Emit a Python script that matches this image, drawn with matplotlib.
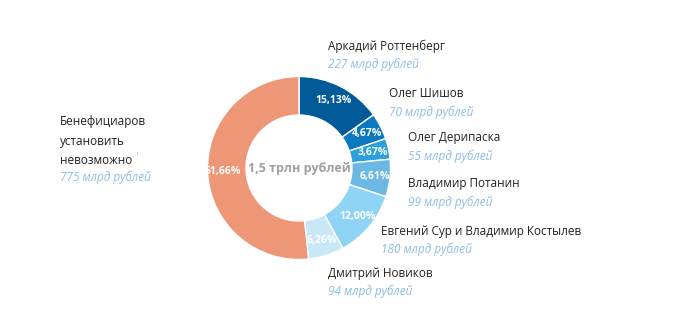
import numpy as np
import matplotlib.pyplot as plt

# shares of the 1.5 trillion roubles
names = ['Аркадий Роттенберг', 'Олег Шишов', 'Олег Дерипаска', 'Владимир Потанин',
         'Евгений Сур и Владимир Костылев', 'Дмитрий Новиков',
         'Бенефициаров\nустановить\nневозможно']
amounts = [227, 70, 55, 99, 180, 94, 775]
percents = ['15,13%', '4,67%', '3,67%', '6,61%', '12,00%', '6,26%', '51,66%']
colors = ['#005b98', '#0b78c2', '#2ba0dc', '#6bb8e5', '#8fd4f5', '#c8e8f8', '#ee9777']

plt.rcParams['font.family'] = ['Open Sans', 'DejaVu Sans']

W, H = 677, 309
fig = plt.figure(figsize=(W / 100, H / 100), dpi=100)
ax = fig.add_axes([0, 0, 1, 1])

cx, cy = 299, H - 168
R = 91.5
wedges, _ = ax.pie(amounts, colors=colors, startangle=90, counterclock=False,
                   center=(cx, cy), radius=R, frame=True,
                   wedgeprops=dict(width=R - 53, edgecolor='white', linewidth=1))
ax.set_xlim(0, W)
ax.set_ylim(0, H)
ax.set_aspect('equal')
ax.axis('off')

for w, p in zip(wedges, percents):
    ang = np.deg2rad((w.theta1 + w.theta2) / 2)
    r = 0.83 * R
    ax.text(cx + r * np.cos(ang), cy + r * np.sin(ang), p, color='white',
            fontsize=7.5, fontweight='bold', ha='center', va='center')

ax.text(cx, cy, '1,5 трлн рублей', color='#a0a0a0', fontsize=9,
        fontweight='bold', ha='center', va='center')

# label positions in pixels (left x, name center y)
label_pos = [(328, 46), (389, 94), (408, 138), (408, 184), (381, 231), (328, 273)]
for (x, y), n, a in zip(label_pos, names[:6], amounts[:6]):
    fig.text(x / W, 1 - y / H, n, color='#222222', fontsize=8.5, ha='left', va='center')
    fig.text(x / W, 1 - (y + 18) / H, f'{a} млрд рублей', color='#8cbde8',
             fontsize=8.5, style='italic', ha='left', va='center')

# left label, one line at a time
for i, line in enumerate(names[6].split('\n')):
    fig.text(60 / W, 1 - (122 + 19 * i) / H, line, color='#222222', fontsize=8.5,
             ha='left', va='center')
fig.text(136 / W, 1 - 155 / H, '1', color='#bbbbbb', fontsize=4, ha='left', va='center')
fig.text(60 / W, 1 - 177 / H, f'{amounts[6]} млрд рублей', color='#8cbde8',
         fontsize=8.5, style='italic', ha='left', va='center')

fig.savefig('out.png', dpi=100, facecolor='white')
